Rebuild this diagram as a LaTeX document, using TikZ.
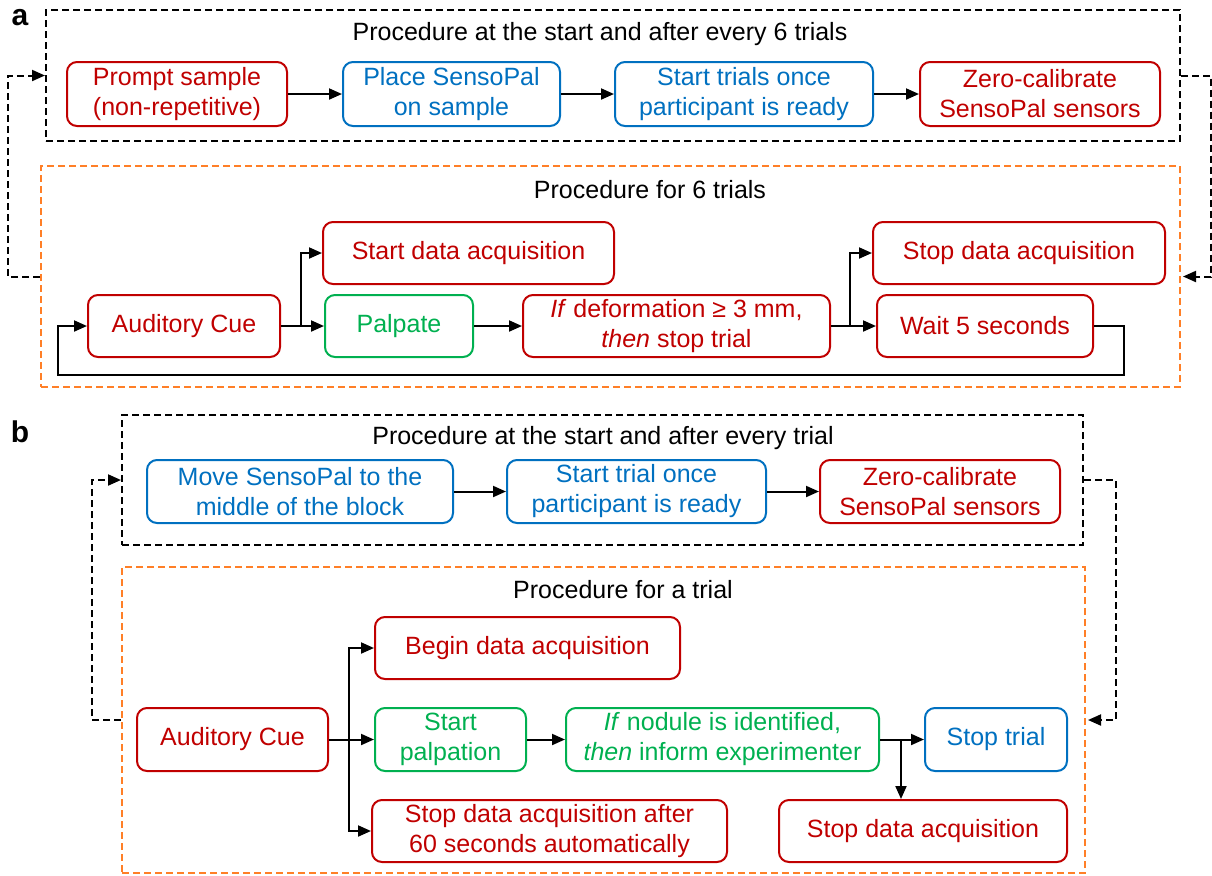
\documentclass[tikz,border=0pt]{standalone}
\usepackage{fontspec}
\setmainfont{Liberation Sans}
\usepackage{tikz}
\usetikzlibrary{arrows.meta}

\definecolor{boxred}{RGB}{192,0,0}
\definecolor{boxblue}{RGB}{0,112,192}
\definecolor{boxgreen}{RGB}{0,176,80}
\definecolor{frameorange}{RGB}{255,127,39}

\tikzset{
  stepnode/.style={draw, rounded corners=5pt, line width=1pt, align=center, inner sep=2pt,
    font=\fontsize{12.5}{15}\selectfont},
  redbox/.style={stepnode, draw=boxred, text=boxred},
  bluebox/.style={stepnode, draw=boxblue, text=boxblue},
  greenbox/.style={stepnode, draw=boxgreen, text=boxgreen},
  frame/.style={draw, line width=1pt, dash pattern=on 3.5pt off 2pt, inner sep=0pt},
  title/.style={font=\fontsize{12.5}{15}\selectfont},
  flow/.style={->, line width=1pt},
  loopback/.style={->, line width=1pt, dash pattern=on 3.5pt off 2pt},
  panel/.style={font=\fontsize{15}{17}\bfseries\selectfont}
}

\begin{document}
\begin{tikzpicture}[x=0.5pt,y=-0.5pt,line cap=butt,line join=miter,>={Triangle[length=6.5pt,width=5.5pt]}]
    \useasboundingbox (0,0) rectangle (1212,875);
    % panel a
    \node[panel] (la) at (20,18) {a};
    \node[frame, minimum width=567pt, minimum height=65.5pt] (blackA) at (613,75.5) {};
    \node[frame, draw=frameorange, minimum width=569.5pt, minimum height=110.5pt] (orangeA) at (610.5,276.5) {};
    \node[title] (tA1) at (600,34) {Procedure at the start and after every 6 trials};
    \node[title] (tA2) at (650,190) {Procedure for 6 trials};
    \node[redbox, minimum width=110pt, minimum height=32pt] (pA) at (177,94) {Prompt sample\\(non-repetitive)};
    \node[bluebox, minimum width=108.5pt, minimum height=32pt] (plA) at (451.5,94) {Place SensoPal\\on sample};
    \node[bluebox, minimum width=129pt, minimum height=32pt] (stA) at (744,94) {Start trials once\\participant is ready};
    \node[redbox, minimum width=120pt, minimum height=32pt] (zA) at (1040,94) {Zero-calibrate\\SensoPal sensors};
    \node[redbox, minimum width=145.5pt, minimum height=31pt] (sdA) at (468.5,253) {Start data acquisition};
    \node[redbox, minimum width=96pt, minimum height=31pt] (cueA) at (184,326) {Auditory Cue};
    \node[greenbox, minimum width=74pt, minimum height=31pt] (palA) at (399,326) {Palpate};
    \node[redbox, minimum width=153.5pt, minimum height=31pt] (ifA) at (676.5,326) {\textit{If} deformation ≥ 3 mm,\\\textit{then} stop trial};
    \node[redbox, minimum width=146pt, minimum height=31pt] (stopA) at (1019,253) {Stop data acquisition};
    \node[redbox, minimum width=108pt, minimum height=31pt] (waitA) at (985,326) {Wait 5 seconds};
    \draw[flow] (pA) -- (plA);
    \draw[flow] (plA) -- (stA);
    \draw[flow] (stA) -- (zA);
    \draw[flow] (cueA) -- (palA);
    \draw[flow] (cueA.east) -- ++(20,0) |- (sdA.west);
    \draw[flow] (palA) -- (ifA);
    \draw[flow] (ifA) -- (waitA);
    \draw[flow] (ifA.east) -- ++(19,0) |- (stopA.west);
    \draw[flow] (waitA.east) -- ++(30,0) -- ++(0,49) -| (58,326) -- (cueA.west);
    \draw[loopback] (orangeA.west) -- ++(-32,0) |- (blackA.west);
    \draw[loopback] (blackA.east) -- ++(30,0) |- ([xshift=1pt]orangeA.east);
    % panel b
    \node[panel] (lb) at (20,432) {b};
    \node[frame, minimum width=480.5pt, minimum height=65pt] (blackB) at (602.5,480) {};
    \node[frame, draw=frameorange, minimum width=481.5pt, minimum height=153pt] (orangeB) at (603.5,720) {};
    \node[title] (tB1) at (603,438) {Procedure at the start and after every trial};
    \node[title] (tB2) at (623,590) {Procedure for a trial};
    \node[bluebox, minimum width=153pt, minimum height=31.5pt] (mvB) at (300,491.5) {Move SensoPal to the\\middle of the block};
    \node[bluebox, minimum width=129.5pt, minimum height=31.5pt] (stB) at (636.5,491.5) {Start trial once\\participant is ready};
    \node[redbox, minimum width=120pt, minimum height=31.5pt] (zB) at (940,491.5) {Zero-calibrate\\SensoPal sensors};
    \node[redbox, minimum width=152.5pt, minimum height=31pt] (beginB) at (527.5,648) {Begin data acquisition};
    \node[redbox, minimum width=95.5pt, minimum height=31.5pt] (cueB) at (232.5,739.5) {Auditory Cue};
    \node[greenbox, minimum width=75.5pt, minimum height=31.5pt] (spB) at (450.5,739.5) {Start\\palpation};
    \node[greenbox, minimum width=156.5pt, minimum height=31.5pt] (ifB) at (722.5,739.5) {\textit{If} nodule is identified,\\\textit{then} inform experimenter};
    \node[bluebox, minimum width=71pt, minimum height=31.5pt] (stoptB) at (996,739.5) {Stop trial};
    \node[redbox, minimum width=177.5pt, minimum height=31pt] (sdaB) at (549.5,831) {Stop data acquisition after\\60 seconds automatically};
    \node[redbox, minimum width=144pt, minimum height=31pt] (stopdB) at (923,831) {Stop data acquisition};
    \coordinate (brB) at (901,739.5);
    \draw[flow] (mvB) -- (stB);
    \draw[flow] (stB) -- (zB);
    \draw[flow] (cueB) -- (spB);
    \draw[flow] (cueB.east) -- ++(20,0) |- (beginB.west);
    \draw[flow] (cueB.east) -- ++(20,0) |- (sdaB.west);
    \draw[flow] (spB) -- (ifB);
    \draw[flow] (ifB) -- (stoptB);
    \draw[flow] (brB) -- (brB |- stopdB.north);
    \draw[loopback] (orangeB.west) -- ++(-29,0) |- (blackB.west);
    \draw[loopback] (blackB.east) -- ++(32,0) |- ([xshift=1pt]orangeB.east);
\end{tikzpicture}
\end{document}
